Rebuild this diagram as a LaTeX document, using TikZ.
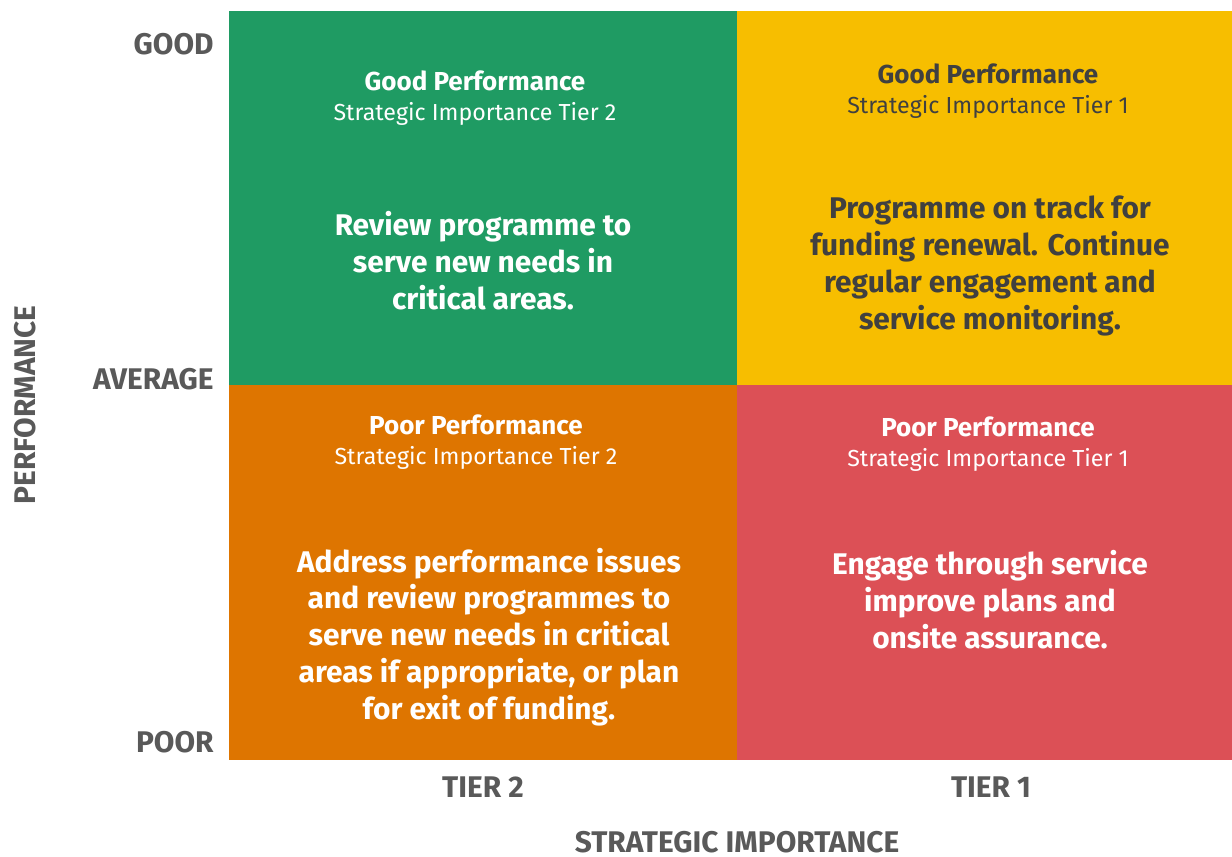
\documentclass[tikz,border=0pt]{standalone}
\usepackage{fontspec}
\setmainfont{Fira Sans}
\usepackage{tikz}

\definecolor{gridgreen}{RGB}{31,155,99}
\definecolor{gridyellow}{RGB}{247,190,0}
\definecolor{gridorange}{RGB}{222,117,0}
\definecolor{gridred}{RGB}{220,80,86}
\definecolor{axisgray}{RGB}{89,89,89}
\definecolor{darktext}{RGB}{64,64,64}

\tikzset{
  heading/.style={align=center, font=\fontsize{13.2}{17}\selectfont},
  advice/.style={align=center, font=\fontsize{17}{21}\selectfont\bfseries},
  axislabel/.style={text=axisgray, font=\fontsize{17}{19}\selectfont\bfseries, inner sep=0pt}
}

\begin{document}
\begin{tikzpicture}[x=0.02cm, y=-0.02cm]
\useasboundingbox (0,0) rectangle (1232,857);

\fill[gridgreen]  (229,11)  rectangle (737,385);
\fill[gridyellow] (737,11)  rectangle (1232,385);
\fill[gridorange] (229,385) rectangle (737,760);
\fill[gridred]    (737,385) rectangle (1232,760);

\draw (475,98)  node (good2) [heading, text=white]    {{\fontsize{14.8}{17}\bfseries Good Performance}\\Strategic Importance Tier 2};
\draw (988,91)  node (good1) [heading, text=darktext] {{\fontsize{14.8}{17}\bfseries Good Performance}\\Strategic Importance Tier 1};
\draw (476,442) node (poor2) [heading, text=white]    {{\fontsize{14.8}{17}\bfseries Poor Performance}\\Strategic Importance Tier 2};
\draw (988,444) node (poor1) [heading, text=white]    {{\fontsize{14.8}{17}\bfseries Poor Performance}\\Strategic Importance Tier 1};

\draw (483,261) node (good2text) [advice, text=white]    {Review programme to\\serve new needs in\\critical areas.};
\draw (990,266) node (good1text) [advice, text=darktext] {Programme on track for\\funding renewal. Continue\\regular engagement and\\service monitoring.};
\draw (489,637) node (poor2text) [advice, text=white]    {Address performance issues\\and review programmes to\\serve new needs in critical\\areas if appropriate, or plan\\for exit of funding.};
\draw (990,600) node (poor1text) [advice, text=white]    {Engage through service\\improve plans and\\onsite assurance.};

\draw (214,44)  node (good)    [axislabel, anchor=east] {GOOD};
\draw (214,379) node (average) [axislabel, anchor=east] {AVERAGE};
\draw (214,742) node (poor)    [axislabel, anchor=east] {POOR};

\draw (483,787) node (tier2) [axislabel] {TIER 2};
\draw (991,787) node (tier1) [axislabel] {TIER 1};

\draw (737,842) node (strategic)   [axislabel] {STRATEGIC IMPORTANCE};
\draw (25,405)  node (performance) [axislabel, rotate=90] {PERFORMANCE};
\end{tikzpicture}
\end{document}
